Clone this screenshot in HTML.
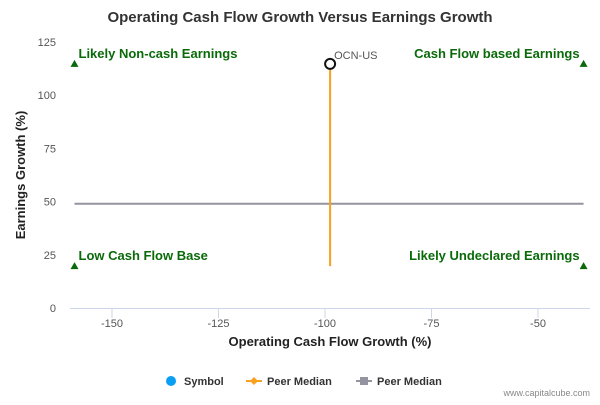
<!DOCTYPE html>
<html><head><meta charset="utf-8"><style>
body{margin:0;background:#fff;font-family:"Liberation Sans",sans-serif}
svg text{font-family:"Liberation Sans",sans-serif}
</style></head><body>
<svg id="c" width="600" height="400" xmlns="http://www.w3.org/2000/svg">
<text x="300" y="22" text-anchor="middle" font-size="15" font-weight="bold" fill="#333">Operating Cash Flow Growth Versus Earnings Growth</text>
<g id="axes"></g><g id="marks"></g>
<text x="330" y="346" text-anchor="middle" font-size="13" font-weight="bold" fill="#222">Operating Cash Flow Growth (%)</text>
<text transform="translate(25,175) rotate(-90)" text-anchor="middle" font-size="13" font-weight="bold" fill="#222">Earnings Growth (%)</text>
<g font-size="11" font-weight="bold" fill="#333">
<g><circle cx="171" cy="381" r="5" fill="#0a9ef5"/><text x="184" y="385">Symbol</text></g>
<g><line x1="246" y1="381" x2="262" y2="381" stroke="#f8a11f" stroke-width="2"/><path d="M254 377 L258 381 L254 385 L250 381Z" fill="#f8a11f"/><text x="267" y="385">Peer Median</text></g>
<g><line x1="356" y1="381" x2="372" y2="381" stroke="#9394a0" stroke-width="2"/><rect x="360" y="377" width="8" height="8" fill="#9394a0"/><text x="377" y="385">Peer Median</text></g>
</g>
<text x="590" y="396" text-anchor="end" font-size="9" fill="#888">www.capitalcube.com</text>
</svg>
<script>
const xTicks=[-150,-125,-100,-75,-50];
const yTicks=[0,25,50,75,100,125];
const symbolX=[-98.8];const symbolY=[114.7];const symbolLabel=["OCN-US"];
const peerMedianOrange=[[-98.8,114.7],[-98.8,19.7]];
const peerMedianGray=[[-158.8,49],[-39.3,49]];
const quadrantX=[-158.8,-39.3,-158.8,-39.3];
const quadrantY=[114.7,114.7,19.7,19.7];
const quadrantLabels=["Likely Non-cash Earnings","Cash Flow based Earnings","Low Cash Flow Base","Likely Undeclared Earnings"];
const X=v=>112+(v+150)*4.26, Y=v=>308-v*2.128;
const NS="http://www.w3.org/2000/svg";
function mk(p,t,a){const e=document.createElementNS(NS,t);for(const k in a)e.setAttribute(k,a[k]);p.appendChild(e);return e;}
const ax=document.getElementById('axes'),mg=document.getElementById('marks');
let l=mk(ax,'line',{x1:70,x2:590,y1:308.5,y2:308.5,stroke:'#ccd6eb'});


xTicks.forEach(v=>{let t=mk(ax,'line',{x1:X(v),x2:X(v),y1:308,y2:318,stroke:'#ccd6eb'});


let s=mk(ax,'text',{x:X(v),y:327,'text-anchor':'middle','font-size':11,fill:'#555'});s.textContent=v;

});
yTicks.forEach(v=>{let s=mk(ax,'text',{x:56,y:Y(v)+4,'text-anchor':'end','font-size':11,fill:'#555'});s.textContent=v;

});
let g=mk(mg,'line',{x1:X(peerMedianGray[0][0]),y1:Y(peerMedianGray[0][1]),x2:X(peerMedianGray[1][0]),y2:Y(peerMedianGray[1][1]),stroke:'#9394a0','stroke-width':2});


let o=mk(mg,'line',{x1:X(peerMedianOrange[0][0]),y1:Y(peerMedianOrange[0][1]),x2:X(peerMedianOrange[1][0]),y2:Y(peerMedianOrange[1][1]),stroke:'#f8a11f','stroke-width':2});


quadrantX.forEach((v,i)=>{const x=X(v),y=Y(quadrantY[i]);
let tr=mk(mg,'path',{d:`M${x} ${y-4} L${x+4} ${y+3} L${x-4} ${y+3}Z`,fill:'#0a6a0a'});


const left=i%2==0;
let t=mk(mg,'text',{x:left?x+4:x-4,y:y-6,'text-anchor':left?'start':'end','font-size':13,'font-weight':'bold',fill:'#0a6a0a'});t.textContent=quadrantLabels[i];

});
symbolX.forEach((v,i)=>{let c=mk(mg,'circle',{cx:X(v),cy:Y(symbolY[i]),r:5,fill:'#fff',stroke:'#111','stroke-width':2});


let t=mk(mg,'text',{x:X(v)+4,y:Y(symbolY[i])-5,'font-size':11,fill:'#555'});t.textContent=symbolLabel[i];

});
</script>
</body></html>
